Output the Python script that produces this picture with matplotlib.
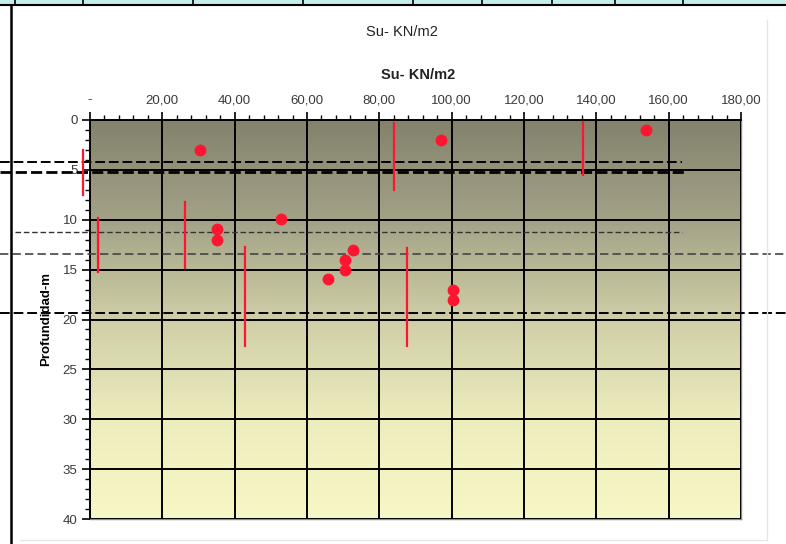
import matplotlib
matplotlib.use("Agg")
import matplotlib.pyplot as plt
import numpy as np
from matplotlib.colors import LinearSegmentedColormap
from matplotlib.ticker import MultipleLocator, FixedLocator

plt.rcParams['font.family'] = ['Liberation Sans', 'DejaVu Sans']

# ---- data ----
point_su = [30.4, 97.0, 153.7, 52.8, 35.1, 35.1, 72.7, 70.5, 70.5, 65.8, 100.4, 100.4]
point_depth = [3.0, 2.0, 1.0, 9.9, 10.9, 12.0, 13.0, 14.0, 15.0, 15.9, 17.0, 18.0]

range_su = [-1.9, 2.2, 26.3, 42.9, 84.0, 87.6, 136.3]
range_top = [3.0, 9.8, 8.2, 12.7, 0.3, 12.8, 0.2]
range_bottom = [7.5, 15.2, 14.8, 22.7, 7.0, 22.7, 5.5]

layer_depth = [4.2, 5.2, 11.2, 13.4, 19.3]
layer_x_start = [-24.9, -24.9, -20.7, -24.9, -24.9]
layer_x_end = [163.7, 164.5, 163.7, 192.4, 192.4]

x_ticks = [0, 20, 40, 60, 80, 100, 120, 140, 160, 180]
x_ticklabels = ['-', '20,00', '40,00', '60,00', '80,00', '100,00', '120,00', '140,00', '160,00', '180,00']
y_ticks = [0, 5, 10, 15, 20, 25, 30, 35, 40]
y_ticklabels = ['0', '5', '10', '15', '20', '25', '30', '35', '40']

title_text = 'Su- KN/m2'
xlabel_text = 'Su- KN/m2'
ylabel_text = 'Profundidad-m'

# ---- figure ----
fig = plt.figure(figsize=(7.86, 5.44), dpi=100)
fig.patch.set_facecolor('white')

W, H = 786, 544
ax = fig.add_axes([90 / W, 1 - 519 / H, 651 / W, 399 / H])

# gradient background
cmap = LinearSegmentedColormap.from_list(
    'bg', [(0.0, '#84826c'), (0.25, '#a3a287'), (0.5, '#cfcea6'),
           (0.75, '#ececbd'), (1.0, '#f8f8c6')])
grad = np.linspace(0, 1, 256).reshape(-1, 1)
ax.imshow(grad, cmap=cmap, aspect='auto', extent=[0, 180, 40, 0], zorder=0)

ax.set_xlim(0, 180)
ax.set_ylim(40, 0)

# grid
ax.xaxis.set_major_locator(FixedLocator(x_ticks))
ax.yaxis.set_major_locator(FixedLocator(y_ticks))
ax.xaxis.set_minor_locator(MultipleLocator(4))
ax.yaxis.set_minor_locator(MultipleLocator(1))
ax.set_xticklabels(x_ticklabels)
ax.set_yticklabels(y_ticklabels)
ax.grid(True, which='major', color='black', linewidth=1.4, zorder=1)
ax.set_axisbelow(False)

ax.xaxis.tick_top()
ax.tick_params(axis='x', which='major', direction='out', length=6, width=1.2,
               labelsize=9.5, colors='black', labelcolor='#3a3a3a', pad=4)
ax.tick_params(axis='x', which='minor', direction='out', length=3.5, width=1.0, colors='black')
ax.tick_params(axis='y', which='major', direction='out', length=6, width=1.2,
               labelsize=9.5, colors='black', labelcolor='#3a3a3a', pad=3)
ax.tick_params(axis='y', which='minor', direction='out', length=3.5, width=1.0, colors='black')

for side in ['top', 'left']:
    ax.spines[side].set_color('black')
    ax.spines[side].set_linewidth(1.4)
for side in ['bottom', 'right']:
    ax.spines[side].set_color('#8a8a80')
    ax.spines[side].set_linewidth(1.0)

# layer dashed lines (extend beyond axes)
styles = [dict(lw=1.4, dashes=(5, 2), color='black'),
          dict(lw=2.0, dashes=(4, 1.5), color='black'),
          dict(lw=1.0, dashes=(4, 2), color='#333333'),
          dict(lw=1.2, dashes=(5, 2.5), color='#444444'),
          dict(lw=1.4, dashes=(5, 2), color='black')]
for d, xs, xe, st in zip(layer_depth, layer_x_start, layer_x_end, styles):
    ax.plot([xs, xe], [d, d], clip_on=False, zorder=3, **st)

# red ranges
for x, t, b in zip(range_su, range_top, range_bottom):
    ax.plot([x, x], [t, b], color='#ff1530', lw=1.6, clip_on=False, zorder=4)

# points
ax.plot(point_su, point_depth, linestyle='none', marker='o', markersize=7.5,
        color='#ff1530', markeredgecolor='#ff1530', zorder=5, clip_on=False)

# labels
ax.set_ylabel(ylabel_text, fontsize=9.5, fontweight='bold')
ax.yaxis.set_label_coords((52 - 90) / 651, 0.5)
fig.text(418 / W, 1 - 75 / H, xlabel_text, fontsize=10.5, fontweight='bold',
         ha='center', va='center', color='#222222')
fig.text(402 / W, 1 - 32 / H, title_text, fontsize=10.5, ha='center', va='center',
         color='#222222')

# top strip (table) and left border
fig.patches.append(plt.Rectangle((0, 1 - 5 / H), 1, 5 / H, transform=fig.transFigure,
                                 facecolor='#c4eee8', edgecolor='none', zorder=0))
fig.lines.append(plt.Line2D([0, 1], [1 - 5 / H, 1 - 5 / H], transform=fig.transFigure,
                            color='black', lw=1.5))
for px in [15, 83, 193, 303, 413, 482, 552, 615, 683]:
    fig.lines.append(plt.Line2D([px / W, px / W], [1 - 5 / H, 1], transform=fig.transFigure,
                                color='black', lw=1.2))
fig.lines.append(plt.Line2D([11 / W, 11 / W], [0, 1 - 5 / H], transform=fig.transFigure,
                            color='black', lw=1.8))
# faint chart border
fig.lines.append(plt.Line2D([767 / W, 767 / W], [1 - 540 / H, 1 - 20 / H], transform=fig.transFigure,
                            color='#e6e6e6', lw=1.0))
fig.lines.append(plt.Line2D([20 / W, 767 / W], [1 - 540 / H, 1 - 540 / H], transform=fig.transFigure,
                            color='#e6e6e6', lw=1.0))

fig.savefig('out.png', dpi=100)
